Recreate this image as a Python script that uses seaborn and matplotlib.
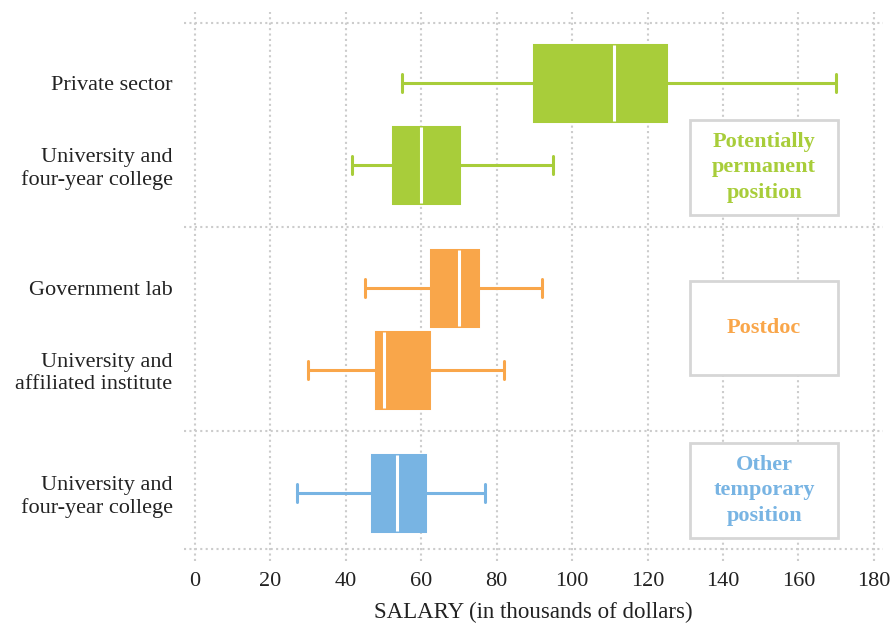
import numpy as np
import pandas as pd
import matplotlib
matplotlib.use("Agg")
import matplotlib.pyplot as plt
from matplotlib.patches import Rectangle
import seaborn as sns

# five-number summaries (thousands of dollars)
row_labels = [
    "Private sector",
    "University and\nfour-year college",
    "Government lab",
    "University and\naffiliated institute",
    "University and\nfour-year college",
]
row_group = ["perm", "perm", "postdoc", "postdoc", "other"]
whisker_low = [55, 41.5, 45, 30, 27]
q1 = [90, 52.5, 62.5, 48, 47]
median = [111, 60, 70, 50, 53.5]
q3 = [125, 70, 75, 62, 61]
whisker_high = [170, 95, 92, 82, 77]

groups = ["perm", "postdoc", "other"]
group_titles = ["Potentially\npermanent\nposition", "Postdoc", "Other\ntemporary\nposition"]
group_colors = ["#a8cd3a", "#f9a64a", "#78b4e3"]

# layout
row_pos = [0, 1, 2.5, 3.5, 5]
group_center = [1.03, 2.99, 4.97]
separators = [-0.73, 1.76, 4.25, 5.68]

# long table: each row's five numbers become its "observations"
records = []
for i in range(len(row_labels)):
    for v in (whisker_low[i], q1[i], median[i], q3[i], whisker_high[i]):
        records.append({"pos": row_pos[i], "group": row_group[i], "salary": v})
df = pd.DataFrame(records)

sns.set_style("white")
plt.rcParams["font.family"] = ["Liberation Serif", "DejaVu Serif"]
text_color = "#222222"
grid_color = "#cccccc"

fig = plt.figure(figsize=(8.9, 6.25), dpi=100)
ax = fig.add_axes([0.2064, 0.1024, 0.786, 0.8784])

for g, c in zip(groups, group_colors):
    sub = df[df["group"] == g]
    sns.boxplot(
        data=sub, x="salary", y="pos", orient="y", native_scale=True,
        color=c, linecolor=c, saturation=1, width=0.92, whis=(0, 100),
        showfliers=False, linewidth=2.2, capwidths=0.21,
        medianprops=dict(color="white", linewidth=2.2),
        ax=ax,
    )

ax.set_xlim(-3, 182.5)
ax.set_ylim(5.83, -0.866)
ax.set_xticks(np.arange(0, 181, 20))
ax.set_yticks(row_pos)
ax.set_yticklabels(row_labels, linespacing=1.2)
ax.tick_params(axis="x", length=0, labelsize=16, colors=text_color, pad=8)
ax.tick_params(axis="y", length=0, labelsize=16, colors=text_color, pad=8)
ax.set_xlabel("SALARY (in thousands of dollars)", fontsize=16.5, color=text_color, labelpad=8)
ax.set_ylabel("")

ax.set_axisbelow(True)
ax.grid(axis="x", color=grid_color, linestyle=(0, (1, 1.6)), linewidth=1.5)
ax.grid(axis="y", visible=False)
for y in separators:
    ax.axhline(y, color=grid_color, linestyle=(0, (1, 1.6)), linewidth=1.5, zorder=0.5)

for spine in ax.spines.values():
    spine.set_visible(False)

# group label boxes
for title, c, yc in zip(group_titles, group_colors, group_center):
    ax.add_patch(Rectangle((131.3, yc + 0.575), 39.2, -1.15, facecolor="white",
                           edgecolor="#d6d6d6", linewidth=2, zorder=3))
    ax.text(150.9, yc, title, ha="center", va="center", color=c, fontsize=16,
            fontweight="bold", linespacing=1.35, zorder=4)

fig.savefig("out.png", dpi=100)
